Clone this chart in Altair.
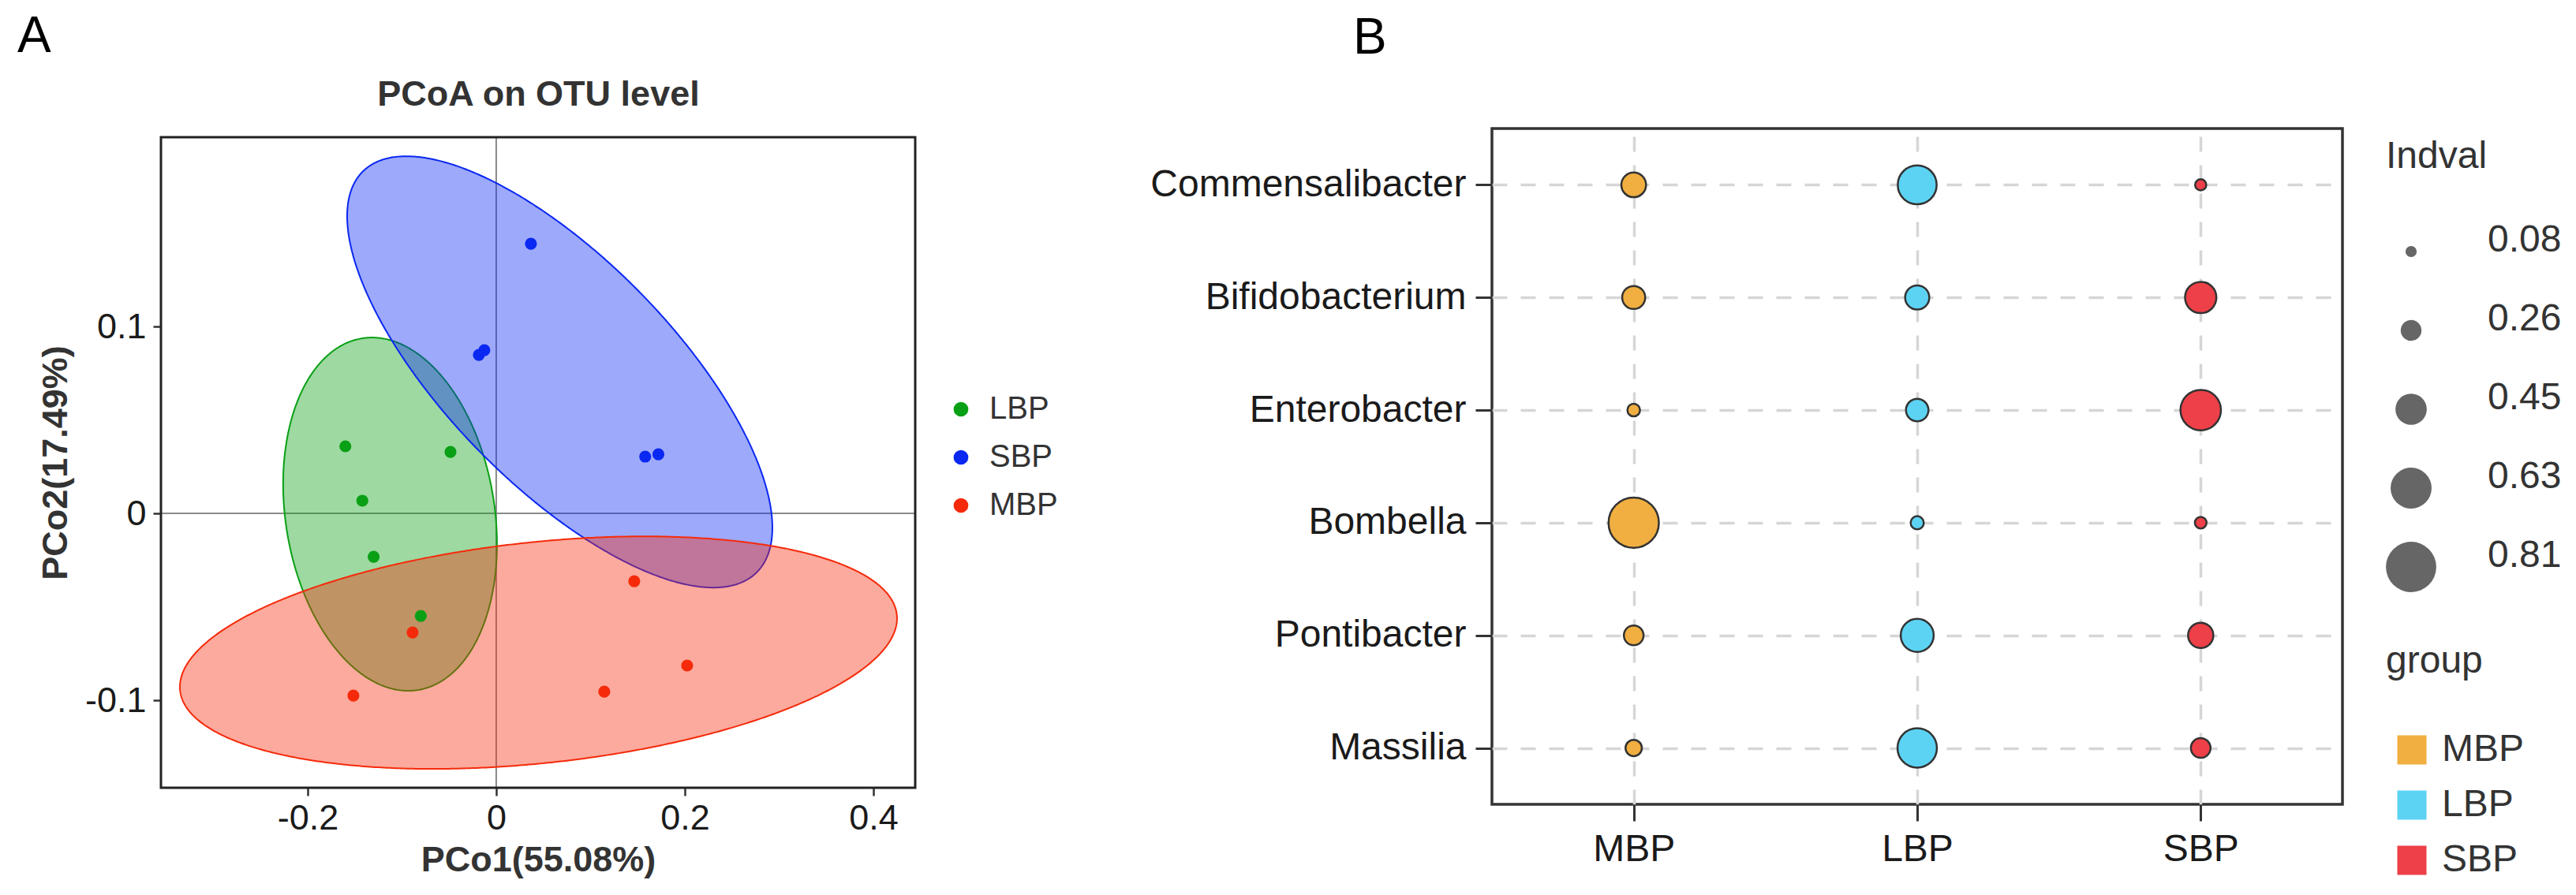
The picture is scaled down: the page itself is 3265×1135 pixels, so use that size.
import altair as alt
import numpy as np
import pandas as pd

# ---------------- Panel A: PCoA ----------------
pcoa_groups = ["LBP", "SBP", "MBP"]
pcoa_colors = ["#0AA015", "#0A28F2", "#F52A0A"]

lbp_x = [-0.160, -0.0485, -0.142, -0.130, -0.080]
lbp_y = [0.0359, 0.0329, 0.0068, -0.0232, -0.0549]
sbp_x = [0.0368, -0.0184, -0.0126, 0.158, 0.172]
sbp_y = [0.1443, 0.0848, 0.0873, 0.0304, 0.0316]
mbp_x = [-0.0887, -0.1515, 0.1464, 0.2025, 0.1146]
mbp_y = [-0.0637, -0.0975, -0.0363, -0.0814, -0.0954]

# confidence ellipses:
# centre x, centre y, half width, half height, x offset of the topmost point
ell_cx = [-0.1126, 0.0674, 0.0448]
ell_cy = [-0.0004, 0.0757, -0.0745]
ell_hw = [0.1134, 0.2255, 0.3803]
ell_hh = [0.0945, 0.1154, 0.0622]
ell_tdx = [-0.0192, -0.1628, 0.1121]

x_domain = [-0.3556, 0.4444]
y_domain = [-0.1468, 0.2013]
x_ticks = [-0.2, 0, 0.2, 0.4]
y_ticks = [-0.1, 0, 0.1]

# ---------------- Panel B: indicator values ----------------
genera = ["Commensalibacter", "Bifidobacterium", "Enterobacter", "Bombella", "Pontibacter", "Massilia"]
groups_b = ["MBP", "LBP", "SBP"]
colors_b = ["#F0AF40", "#5DD3F4", "#EE4048"]
indval_mbp = [0.33, 0.30, 0.11, 0.81, 0.24, 0.18]
indval_lbp = [0.59, 0.32, 0.29, 0.12, 0.48, 0.60]
indval_sbp = [0.08, 0.45, 0.62, 0.09, 0.34, 0.24]
size_legend_values = [0.08, 0.26, 0.45, 0.63, 0.81]

FONT = "Liberation Sans"

# ---- build tables ----
pts = pd.DataFrame({
    "x": lbp_x + sbp_x + mbp_x,
    "y": lbp_y + sbp_y + mbp_y,
    "group": ["LBP"] * len(lbp_x) + ["SBP"] * len(sbp_x) + ["MBP"] * len(mbp_x),
})


def ellipse_band(cx, cy, hw, hh, tdx, n=361):
    s11, s22, s12 = hw ** 2, hh ** 2, tdx * hh
    det = s11 * s22 - s12 ** 2
    a, b, d = s22 / det, -s12 / det, s11 / det
    th = np.linspace(np.pi, 0, n)
    dx = hw * np.cos(th)
    disc = np.clip(b * b * dx * dx - d * (a * dx * dx - 1), 0, None)
    yhi = (-b * dx + np.sqrt(disc)) / d
    ylo = (-b * dx - np.sqrt(disc)) / d
    return cx + dx, cy + yhi, cy + ylo


rows = []
for g, cx, cy, hw, hh, t in zip(pcoa_groups, ell_cx, ell_cy, ell_hw, ell_hh, ell_tdx):
    ex, eh, el = ellipse_band(cx, cy, hw, hh, t)
    for xi, hi, lo in zip(ex, eh, el):
        rows.append({"group": g, "x": xi, "yhi": hi, "ylo": lo})
ell = pd.DataFrame(rows)

vline = pd.DataFrame({"x": [0.0], "y": [y_domain[0]], "y2": [y_domain[1]]})
hline = pd.DataFrame({"y": [0.0], "x": [x_domain[0]], "x2": [x_domain[1]]})
frame = pd.DataFrame({"x": [x_domain[0]], "x2": [x_domain[1]], "y": [y_domain[0]], "y2": [y_domain[1]]})

A_W, A_H = 956, 836
xscale = alt.Scale(domain=x_domain, nice=False, zero=False)
yscale = alt.Scale(domain=y_domain, range=[A_H, 11], nice=False, zero=False)

lab_expr = "datum.value == 0 ? '0' : (datum.value < 0 ? '-' : '') + format(abs(datum.value), '.1f')"

x_axis_bottom = alt.Axis(
    orient="bottom", title="PCo1(55.08%)", values=x_ticks, labelExpr=lab_expr, tickSize=10,
    tickWidth=2.5, tickColor="#333333", domain=False, grid=False, labelFontSize=45,
    labelColor="#1a1a1a", labelPadding=6, labelOverlap=False, titleFontSize=45,
    titleFontWeight="bold", titleColor="#333333", titlePadding=8,
)
x_axis_top = alt.Axis(
    orient="top", title="PCoA on OTU level", labels=False, ticks=False, domain=False,
    grid=False, titleFontSize=45, titleFontWeight="bold", titleColor="#333333", titlePadding=21,
)
y_axis = alt.Axis(
    title="PCo2(17.49%)", values=y_ticks, labelExpr=lab_expr, tickSize=10, tickWidth=2.5,
    tickColor="#333333", domain=False, grid=False, labelFontSize=45, labelColor="#1a1a1a",
    labelPadding=9, labelOverlap=False, titleFontSize=45, titleFontWeight="bold",
    titleColor="#333333", titlePadding=14,
)


def XA(field, axis=None):
    if axis is None:
        return alt.X(field, type="quantitative", scale=xscale, axis=None)
    return alt.X(field, type="quantitative", scale=xscale, axis=axis)


def YA(field):
    return alt.Y(field, type="quantitative", scale=yscale, axis=y_axis, stack=None)


rule_v = alt.Chart(vline).mark_rule(color="#8a8a8a", strokeWidth=2).encode(
    x=XA("x"), y=YA("y"), y2="y2:Q")
rule_h = alt.Chart(hline).mark_rule(color="#8a8a8a", strokeWidth=2).encode(
    x=XA("x"), x2="x2:Q", y=YA("y"))

# one filled ellipse per group (green, then blue, then red on top)
ellipse_layers = []
for g, c in zip(pcoa_groups, pcoa_colors):
    ellipse_layers.append(
        alt.Chart(ell).transform_filter(alt.datum.group == g).mark_area(
            fill=c, stroke=c, fillOpacity=0.4, strokeWidth=2, strokeOpacity=1
        ).encode(x=XA("x"), y=YA("yhi"), y2="ylo:Q")
    )

points = alt.Chart(pts).mark_circle(size=230, opacity=1).encode(
    x=XA("x", x_axis_bottom), y=YA("y"),
    color=alt.Color("group:N", scale=alt.Scale(domain=pcoa_groups, range=pcoa_colors),
                    legend=alt.Legend(orient="none", legendX=994, legendY=336, title="",
                                      symbolType="circle", symbolSize=350, symbolStrokeWidth=0,
                                      labelFontSize=40, labelColor="#333333", labelOffset=16,
                                      rowPadding=21, padding=0)),
)
frame_layer = alt.Chart(frame).mark_rect(fill="transparent", stroke="#222222", strokeWidth=3).encode(
    x=XA("x", x_axis_top), x2="x2:Q",
    y=YA("y"), y2="y2:Q",
)

panelA = alt.layer(rule_v, rule_h, *ellipse_layers, points, frame_layer).resolve_axis(
    x="independent"
).properties(
    width=A_W, height=A_H,
    title=alt.Title("A", anchor="start", frame="group", dx=-182, fontSize=64,
                    fontWeight="normal", color="#000000", offset=18),
    view=alt.ViewBackground(stroke="transparent"),
)

# ---- panel B ----
brows = []
for g, vals in zip(groups_b, [indval_mbp, indval_lbp, indval_sbp]):
    for gen, v in zip(genera, vals):
        brows.append({"genus": gen, "group": g, "indval": v})
bdf = pd.DataFrame(brows)

B_W, B_H = 1078, 857
grid_kw = dict(grid=True, gridDash=[19, 17], gridColor="#d6d6d6", gridWidth=3.5)
panelB = alt.Chart(bdf).mark_circle(opacity=1, stroke="#333333", strokeWidth=2.5).encode(
    x=alt.X("group:N", sort=groups_b, scale=alt.Scale(domain=groups_b),
            axis=alt.Axis(title=None, labelAngle=0, labelFontSize=48, labelColor="#1a1a1a",
                          tickSize=21, tickWidth=3, tickColor="#333333", domain=False,
                          labelPadding=12, labelLimit=0, **grid_kw)),
    y=alt.Y("genus:N", sort=genera, scale=alt.Scale(domain=genera),
            axis=alt.Axis(title=None, labelFontSize=48, labelColor="#1a1a1a",
                          tickSize=21, tickWidth=3, tickColor="#333333", domain=False,
                          labelPadding=12, labelLimit=0, **grid_kw)),
    size=alt.Size("indval:Q", scale=alt.Scale(type="pow", exponent=1.7, domain=[0.08, 0.81],
                                              range=[201, 4072]),
                  legend=alt.Legend(title="Indval", orient="none", legendX=1133, legendY=12,
                                    values=size_legend_values, format=".2f",
                                    symbolFillColor="#666666", symbolStrokeWidth=0,
                                    symbolStrokeColor="transparent", symbolType="circle",
                                    titleFontSize=48, titleFontWeight="normal", titleColor="#333333",
                                    labelFontSize=48, labelColor="#333333", labelBaseline="alphabetic",
                                    labelOffset=65, clipHeight=80, rowPadding=20, titlePadding=56,
                                    padding=0)),
    color=alt.Color("group:N", scale=alt.Scale(domain=groups_b, range=colors_b),
                    legend=alt.Legend(title="group", orient="none", legendX=1133, legendY=652,
                                      symbolType="square", symbolSize=1369, symbolStrokeWidth=0,
                                      symbolStrokeColor="transparent", symbolOffset=9,
                                      titleFontSize=48, titleFontWeight="normal", titleColor="#333333",
                                      labelFontSize=48, labelColor="#333333", labelOffset=14,
                                      rowPadding=22, titlePadding=64, padding=0)),
).properties(
    width=B_W, height=B_H,
    title=alt.Title("B", anchor="start", frame="group", dx=-176, fontSize=64,
                    fontWeight="normal", color="#000000", offset=82),
    view=alt.ViewBackground(stroke="#333333", strokeWidth=3.5),
)

chart = alt.hconcat(panelA, panelB, spacing=731, bounds="flush").resolve_scale(
    color="independent", size="independent",
).properties(
    padding={"left": 13, "top": 6, "right": 5, "bottom": 5},
).configure(font=FONT)

chart.save("out.html", embed_options={"renderer": "svg", "actions": False})
